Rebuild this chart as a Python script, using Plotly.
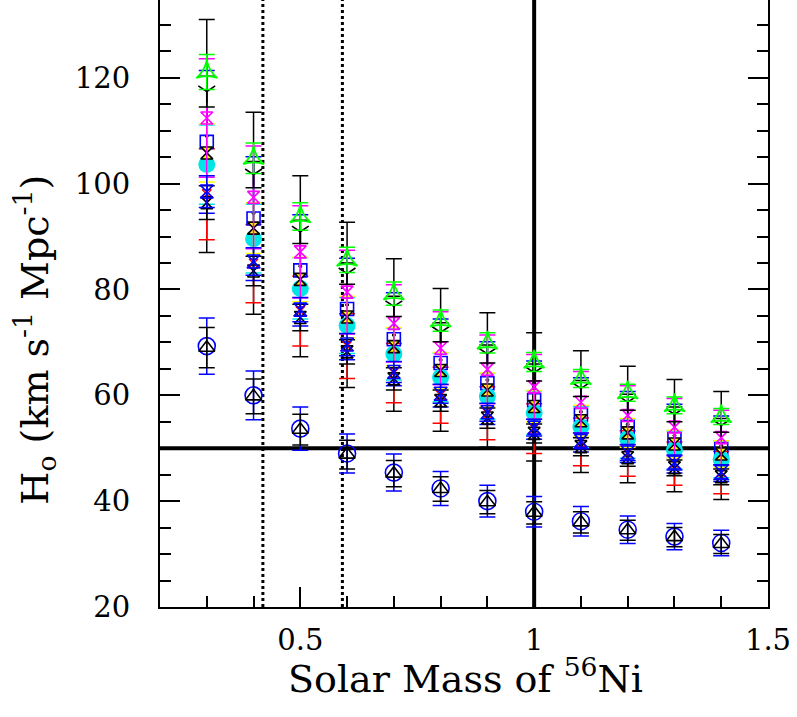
import plotly.graph_objects as go

mass = [0.3, 0.4, 0.5, 0.6, 0.7, 0.8, 0.9, 1.0, 1.1, 1.2, 1.3, 1.4]

# H0 estimates (km/s/Mpc), per series
h_black_big = [109.0, 94.4, 84.4, 77.1, 71.4, 66.7, 62.9, 59.7, 56.9, 54.5, 52.4, 50.5]
e_black_big = [22.0, 19.1, 17.1, 15.6, 14.4, 13.5, 12.7, 12.1, 11.5, 11.0, 10.6, 10.2]

h_red = [98.0, 84.9, 75.9, 69.3, 64.2, 60.0, 56.6, 53.7, 51.2, 49.0, 47.1, 45.4]
e_red = [8.6, 7.4, 6.6, 6.1, 5.6, 5.3, 5.0, 4.7, 4.5, 4.3, 4.1, 4.0]

h_blue_sq = [107.9, 93.4, 83.6, 76.3, 70.6, 66.1, 62.3, 59.1, 56.3, 54.0, 51.8, 49.9]
e_blue_sq = [13.5, 11.7, 10.5, 9.6, 8.8, 8.3, 7.8, 7.4, 7.0, 6.7, 6.5, 6.2]

h_cyan = [103.6, 89.6, 80.2, 73.2, 67.8, 63.4, 59.8, 56.7, 54.0, 51.8, 49.7, 47.9]
e_cyan = [7.5, 6.5, 5.8, 5.3, 4.9, 4.6, 4.3, 4.1, 3.9, 3.7, 3.6, 3.5]

h_yellow = [105.8, 91.6, 81.9, 74.8, 69.2, 64.7, 61.0, 57.9, 55.2, 52.9, 50.8, 48.9]
e_yellow = [5.5, 4.8, 4.2, 3.9, 3.6, 3.4, 3.2, 3.0, 2.9, 2.7, 2.6, 2.5]

h_magenta = [112.4, 97.4, 87.1, 79.5, 73.6, 68.9, 64.9, 61.6, 58.7, 56.2, 54.0, 52.0]
e_magenta = [11.2, 9.7, 8.7, 7.9, 7.3, 6.9, 6.5, 6.1, 5.8, 5.6, 5.4, 5.2]

h_black_hg = [96.4, 83.5, 74.7, 68.2, 63.1, 59.0, 55.7, 52.8, 50.3, 48.2, 46.3, 44.6]
e_black_hg = [3.2, 2.8, 2.5, 2.3, 2.1, 2.0, 1.9, 1.8, 1.7, 1.6, 1.5, 1.5]

h_blue_hg = [98.5, 85.3, 76.2, 69.6, 64.4, 60.3, 56.8, 53.9, 51.4, 49.2, 47.3, 45.5]
e_blue_hg = [3.0, 2.6, 2.3, 2.1, 2.0, 1.8, 1.7, 1.6, 1.5, 1.5, 1.4, 1.4]

h_black_ang = [117.4, 101.7, 90.9, 83.0, 76.8, 71.9, 67.8, 64.3, 61.3, 58.7, 56.4, 54.3]
e_black_ang = [2.9, 2.5, 2.2, 2.0, 1.9, 1.8, 1.7, 1.6, 1.5, 1.5, 1.4, 1.3]

h_green = [121.1, 104.8, 93.8, 85.6, 79.2, 74.1, 69.9, 66.3, 63.2, 60.5, 58.1, 56.0]
e_green = [3.3, 2.9, 2.6, 2.4, 2.2, 2.0, 1.9, 1.8, 1.7, 1.6, 1.6, 1.5]

h_blue_circ = [69.3, 60.0, 53.7, 49.0, 45.4, 42.4, 40.0, 38.0, 36.2, 34.6, 33.3, 32.1]
e_blue_circ = [5.3, 4.6, 4.1, 3.7, 3.5, 3.2, 3.0, 2.9, 2.8, 2.6, 2.5, 2.4]

h_black_tri = [69.0, 59.8, 53.5, 48.8, 45.2, 42.3, 39.8, 37.8, 36.0, 34.5, 33.2, 31.9]
e_black_tri = [3.8, 3.3, 2.9, 2.7, 2.5, 2.3, 2.2, 2.1, 2.0, 1.9, 1.8, 1.8]

ref_h0 = 50
ref_mass = 1.0
dotted_masses = [0.42, 0.59]

x_title = "Solar Mass of <sup>56</sup>Ni"
y_title = "H<sub>o</sub> (km s<sup>-1</sup> Mpc<sup>-1</sup>)"

series = [
    (h_blue_circ, e_blue_circ, "blue", "circle-open", 17, 1.6, None),
    (h_black_tri, e_black_tri, "black", "triangle-up-open", 14, 1.6, None),
    (h_black_big, e_black_big, "black", "circle", 3, 1, None),
    (h_red, e_red, "red", "hourglass-open", 9, 1.2, None),
    (h_blue_sq, e_blue_sq, "blue", "square-open", 13, 1.6, None),
    (h_cyan, e_cyan, "#00e5e5", "circle", 17, 0, None),
    (h_yellow, e_yellow, "#ffff00", "hourglass", 12, 1.6, "black"),
    (h_magenta, e_magenta, "magenta", "hourglass-open", 12, 1.6, None),
    (h_black_hg, e_black_hg, "black", "hourglass-open", 12, 1.6, None),
    (h_blue_hg, e_blue_hg, "blue", "hourglass-open", 13, 1.6, None),
    (h_black_ang, e_black_ang, "black", "y-down-open", 14, 1.6, None),
    (h_green, e_green, "#00ff00", "star-triangle-up-open", 15, 1.8, None),
]

fig = go.Figure()
for ys, es, col, sym, size, lw, lcol in series:
    fig.add_trace(go.Scatter(
        x=mass, y=ys, mode="markers",
        marker=dict(symbol=sym, size=size, color=col,
                    line=dict(color=lcol if lcol else col, width=lw)),
        error_y=dict(type="data", array=es, visible=True, color=col,
                     thickness=1.5, width=8),
        showlegend=False, cliponaxis=False,
    ))

fig.add_hline(y=ref_h0, line=dict(color="black", width=4), layer="below")
fig.add_vline(x=ref_mass, line=dict(color="black", width=4), layer="below")
for m in dotted_masses:
    fig.add_vline(x=m, line=dict(color="black", width=3, dash="dot"), layer="below")

font_family = "DejaVu Serif"
fig.update_layout(
    width=797, height=717,
    margin=dict(l=160, r=29, t=0, b=110),
    paper_bgcolor="white", plot_bgcolor="white",
    font=dict(family=font_family, color="black", size=28),
)
fig.add_annotation(text=x_title, xref="paper", yref="paper", x=0.502, y=-0.114,
                   xanchor="center", yanchor="middle", showarrow=False,
                   font=dict(size=38, family=font_family, color="black"))
fig.add_annotation(text=y_title, xref="paper", yref="paper", x=-0.206, y=0.44,
                   xanchor="center", yanchor="middle", showarrow=False, textangle=-90,
                   font=dict(size=38, family=font_family, color="black"))
fig.update_xaxes(
    range=[0.2, 1.5], tickvals=[0.5, 1, 1.5], ticktext=["0.5", "1", "1.5"],
    ticks="inside", ticklen=20, tickwidth=1.5, tickcolor="black",
    minor=dict(dtick=0.1, tick0=0, ticks="inside", ticklen=11, tickwidth=1.5, tickcolor="black"),
    showline=True, linecolor="black", linewidth=2, mirror=False,
    showgrid=False, zeroline=False, ticklabelstandoff=6,
    tickfont=dict(size=29, family=font_family),
)
fig.update_yaxes(
    range=[20, 134.7], tickvals=[20, 40, 60, 80, 100, 120],
    ticks="inside", ticklen=20, tickwidth=1.5, tickcolor="black",
    minor=dict(dtick=5, tick0=0, ticks="inside", ticklen=11, tickwidth=1.5, tickcolor="black"),
    showline=True, linecolor="black", linewidth=2, mirror="ticks",
    showgrid=False, zeroline=False, ticklabelstandoff=22,
    tickfont=dict(size=29, family=font_family),
)

fig.write_html("out.html")
